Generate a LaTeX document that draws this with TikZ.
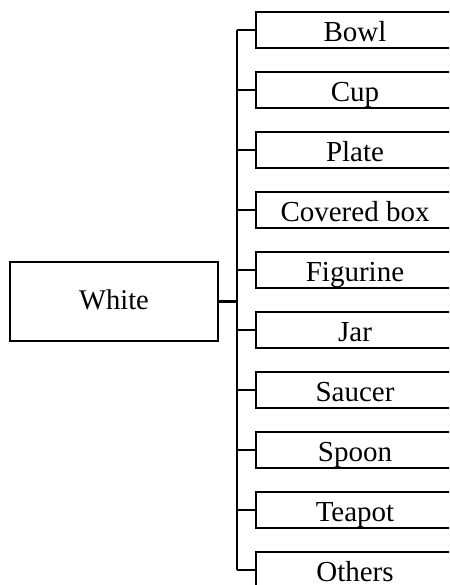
\documentclass[tikz,border=0pt]{standalone}
\usepackage{fontspec}
\setmainfont{Liberation Serif}
\usepackage{tikz}
\usetikzlibrary{positioning}

\begin{document}
\begin{tikzpicture}[
    x=1pt, y=-1pt,
    item/.style={rectangle, draw, line width=2.2pt, minimum width=198pt, minimum height=36pt, inner sep=0pt, text height=22.5pt, text depth=0pt, font=\fontsize{29}{31}\selectfont},
    root/.style={rectangle, draw, line width=2.2pt, minimum width=208pt, minimum height=79pt, inner sep=0pt, text height=15.6pt, text depth=0pt, font=\fontsize{28.5}{31}\selectfont},
    link/.style={line width=2.4pt}
]
\useasboundingbox (0,0) rectangle (449,585);
\clip (0,0) rectangle (449,585);

% Nodes
\node[root] (white) at (114,301.5) {White};
\node[item] (bowl) at (355,30) {Bowl};
\node[item] (cup) at (355,90) {Cup};
\node[item] (plate) at (355,150) {Plate};
\node[item] (covered) at (355,210) {Covered box};
\node[item] (figurine) at (355,270) {Figurine};
\node[item] (jar) at (355,330) {Jar};
\node[item] (saucer) at (355,390) {Saucer};
\node[item] (spoon) at (355,450) {Spoon};
\node[item] (teapot) at (355,510) {Teapot};
\node[item] (others) at (355,570) {Others};
\coordinate (trunk) at (237,0);

% Lines
\draw[link] (white.east) -- (white.east -| trunk);
\draw[link] (bowl.west -| trunk) -- (others.west -| trunk);
\foreach \n in {bowl,cup,plate,covered,figurine,jar,saucer,spoon,teapot,others}
    \draw[link] (\n.west -| trunk) -- (\n.west);

\end{tikzpicture}
\end{document}
